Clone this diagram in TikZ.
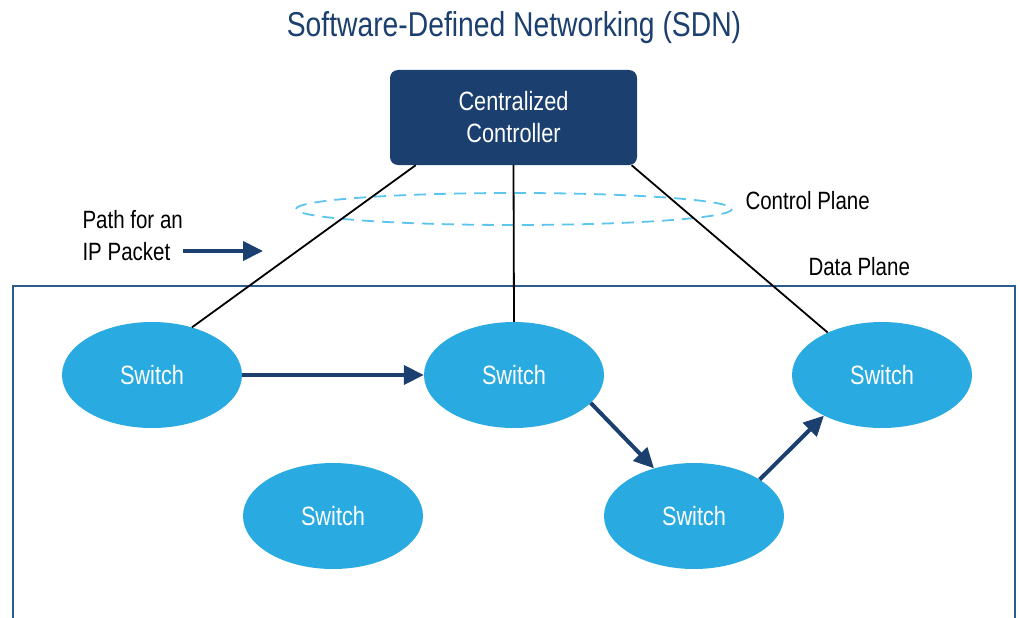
\documentclass[tikz,border=0pt]{standalone}
\usepackage{fontspec}
\setmainfont{Liberation Sans}[FakeStretch=0.82]
\usepackage{tikz}
\usetikzlibrary{shapes.geometric, arrows.meta, positioning}
\definecolor{sdnnavy}{RGB}{27, 63, 110}
\definecolor{sdnblue}{RGB}{41, 170, 225}
\definecolor{sdnlite}{RGB}{91, 197, 239}
\definecolor{sdnframe}{RGB}{43, 92, 143}
\tikzset{
  switchnode/.style={ellipse, fill=sdnblue, minimum width=180pt, minimum height=106pt,
                     text=white, font=\fontsize{26.5}{30}\selectfont},
  ctrlbox/.style={rectangle, rounded corners=8pt, fill=sdnnavy, minimum width=247pt,
                  minimum height=95pt, text=white, align=center,
                  font=\fontsize{26.5}{32}\selectfont},
  lbl/.style={font=\fontsize{25}{32}\selectfont, align=left},
  ctrlline/.style={line width=1.8pt, black},
  arrow/.style={-{Triangle[length=20pt, width=19pt]}, line width=4pt, color=sdnnavy},
  ctrlplane/.style={dashed, dash pattern=on 12pt off 8pt, line width=1.8pt, color=sdnlite},
  frame/.style={line width=2pt, color=sdnframe},
}
\begin{document}
\begin{tikzpicture}[x=1pt, y=-1pt]
  \useasboundingbox (0,0) rectangle (1020,618);

  \node[font=\fontsize{34.5}{38}\selectfont, text=sdnnavy] (title) at (514,28)
    {Software-Defined Networking (SDN)};

  % controller and control plane
  \node[ctrlbox] (ctrl) at (513.5,117.5) {Centralized\\Controller};
  \draw[ctrlplane] (514,209) ellipse [x radius=218, y radius=16];
  \node[lbl, anchor=west] (cplane) at (742,201) {Control Plane};

  % packet path label
  \node[lbl, anchor=west] (pktlbl) at (79,236) {Path for an\\IP Packet};
  \coordinate (pktstart) at (183,251);
  \coordinate (pktend) at (263,251);
  \draw[arrow] (pktstart) -- (pktend);

  % data plane
  \draw[frame] (13,618) |- (1015,286) -- (1015,618);
  \node[lbl, anchor=west] (dplane) at (805,267) {Data Plane};

  \node[switchnode] (sw1) at (152,375) {Switch};
  \node[switchnode] (sw2) at (514,375) {Switch};
  \node[switchnode] (sw3) at (882,375) {Switch};
  \node[switchnode] (sw4) at (333,516) {Switch};
  \node[switchnode] (sw5) at (694,516) {Switch};

  \draw[ctrlline] (ctrl.206) -- (sw1.50);
  \draw[ctrlline] (ctrl.south) -- (sw2.north);
  \draw[ctrlline] (ctrl.338) -- (sw3.142);

  \draw[arrow] (sw1.east) -- (sw2.west);
  \draw[arrow] (sw2.-20) -- (sw5.130);
  \draw[arrow] (sw5.29) -- (sw3.215);
\end{tikzpicture}
\end{document}
